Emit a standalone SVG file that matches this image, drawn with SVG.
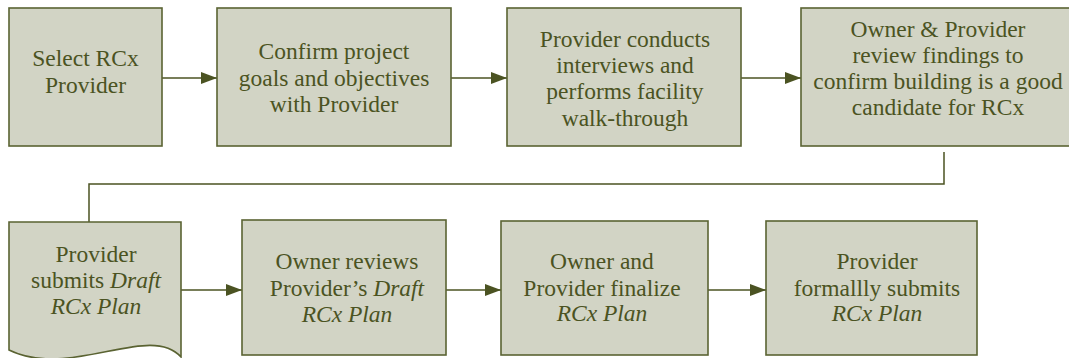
<svg xmlns="http://www.w3.org/2000/svg" width="1069" height="358" viewBox="0 0 1069 358">
<defs>
<style>
.box{fill:#d2d4c5;stroke:#5a6332;stroke-width:1.6}
.t{font-size:23.5px;fill:#4b5322;text-anchor:middle}
.i{font-style:italic}
.c{fill:none;stroke:#4b5322;stroke-width:1.5}
</style>
<marker id="ah" markerWidth="16" markerHeight="12" refX="16" refY="6" orient="auto" markerUnits="userSpaceOnUse">
<path d="M0,0 L16,6 L0,12 Z" fill="#4b5322"/>
</marker>
</defs>
<rect width="1069" height="358" fill="#ffffff"/>
<g id="connectors">
<line class="c" x1="162" y1="78" x2="217" y2="78" marker-end="url(#ah)"/>
<line class="c" x1="451" y1="78" x2="507" y2="78" marker-end="url(#ah)"/>
<line class="c" x1="741" y1="78" x2="801" y2="78" marker-end="url(#ah)"/>
<polyline class="c" points="944,152 944,184 89,184 89,222"/>
<line class="c" x1="181" y1="290" x2="242" y2="290" marker-end="url(#ah)"/>
<line class="c" x1="446" y1="290" x2="501" y2="290" marker-end="url(#ah)"/>
<line class="c" x1="708" y1="290" x2="766" y2="290" marker-end="url(#ah)"/>
</g>
<g id="nodes" font-family="Liberation Serif, serif">
<g id="n1">
<rect class="box" x="9" y="8" width="153" height="138"/>
<text class="t" x="85.5" y="66">Select RCx</text>
<text class="t" x="85.5" y="93">Provider</text>
</g>
<g id="n2">
<rect class="box" x="217" y="8" width="234" height="138"/>
<text class="t" x="334" y="59">Confirm project</text>
<text class="t" x="334" y="86">goals and objectives</text>
<text class="t" x="334" y="112">with Provider</text>
</g>
<g id="n3">
<rect class="box" x="507" y="8" width="234" height="138"/>
<text class="t" x="625" y="47">Provider conducts</text>
<text class="t" x="625" y="73">interviews and</text>
<text class="t" x="625" y="99">performs facility</text>
<text class="t" x="625" y="126">walk-through</text>
</g>
<g id="n4">
<rect class="box" x="801" y="8" width="276" height="138"/>
<text class="t" x="938" y="37">Owner &amp; Provider</text>
<text class="t" x="938" y="63">review findings to</text>
<text class="t" x="938" y="89">confirm building is a good</text>
<text class="t" x="938" y="115">candidate for RCx</text>
</g>
<g id="n5">
<path class="box" d="M9,222 H181 V357 C150,322 70,380 9,350 Z"/>
<text class="t" x="96" y="262">Provider</text>
<text class="t" x="96" y="288">submits <tspan class="i">Draft</tspan></text>
<text class="t i" x="96" y="314">RCx Plan</text>
</g>
<g id="n6">
<rect class="box" x="242" y="220" width="204" height="135"/>
<text class="t" x="347" y="269">Owner reviews</text>
<text class="t" x="347" y="296">Provider’s <tspan class="i">Draft</tspan></text>
<text class="t i" x="347" y="322">RCx Plan</text>
</g>
<g id="n7">
<rect class="box" x="501" y="221" width="207" height="134"/>
<text class="t" x="602" y="269">Owner and</text>
<text class="t" x="602" y="296">Provider finalize</text>
<text class="t i" x="602" y="321">RCx Plan</text>
</g>
<g id="n8">
<rect class="box" x="766" y="221" width="211" height="134"/>
<text class="t" x="877" y="269">Provider</text>
<text class="t" x="877" y="296">formallly submits</text>
<text class="t i" x="877" y="321">RCx Plan</text>
</g>
</g>
</svg>
